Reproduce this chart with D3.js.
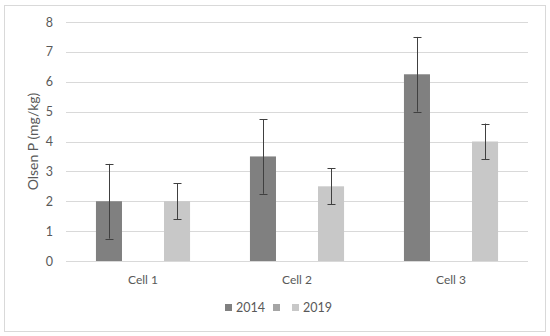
<!DOCTYPE html>
<html>
<head>
<meta charset="utf-8">
<script src="https://cdn.jsdelivr.net/npm/d3@7"></script>
<style>
  body { margin: 0; background: #fff; }
  svg text { font-family: Lato, "Open Sans", sans-serif; fill: #595959; }
</style>
</head>
<body>
<div id="chart"></div>
<script>
const categories = ["Cell 1", "Cell 2", "Cell 3"],
  seriesNames = ["2014", "", "2019"],
  values2014 = [2.0, 3.5, 6.25],
  valuesBlank = [0, 0, 0],
  values2019 = [2.0, 2.5, 4.0],
  err2014 = [1.25, 1.25, 1.25],
  errBlank = [0, 0, 0],
  err2019 = [0.6, 0.6, 0.6],
  yTicks = [0, 1, 2, 3, 4, 5, 6, 7, 8];

const COLORS = ["#808080", "#a5a5a5", "#c8c8c8"],
  WIDTH = 550,
  HEIGHT = 336,
  margin = { top: 22, right: 22, bottom: 75, left: 66 };

const series = [
  { name: seriesNames[0], vals: values2014, errs: err2014 },
  { name: seriesNames[1], vals: valuesBlank, errs: errBlank },
  { name: seriesNames[2], vals: values2019, errs: err2019 }
];

const svg = d3.select("#chart").append("svg")
  .attr("width", WIDTH)
  .attr("height", HEIGHT);

// outer chart frame
svg.append("rect")
  .attr("x", 4.5).attr("y", 5.5)
  .attr("width", 541).attr("height", 326)
  .attr("fill", "#fff")
  .attr("stroke", "#d9d9d9")
  .attr("stroke-width", 1);

const x0 = d3.scaleBand()
  .domain(categories)
  .range([margin.left, WIDTH - margin.right]);

const x1 = d3.scaleBand()
  .domain(d3.range(series.length))
  .range([0, x0.bandwidth()])
  .paddingInner(0.235)
  .paddingOuter(0.88);

const y = d3.scaleLinear()
  .domain([0, 8])
  .range([HEIGHT - margin.bottom, margin.top]);

// gridlines
svg.append("g")
  .selectAll("line")
  .data(yTicks)
  .enter()
  .append("line")
  .attr("x1", margin.left)
  .attr("x2", WIDTH - margin.right)
  .attr("y1", d => Math.round(y(d)) + 0.5)
  .attr("y2", d => Math.round(y(d)) + 0.5)
  .attr("stroke", "#d9d9d9")
  .attr("stroke-width", 1);

// y axis labels
const yAxis = svg.append("g")
  .attr("transform", `translate(${margin.left - 13},0)`)
  .call(d3.axisLeft(y).tickValues(yTicks).tickSize(0).tickPadding(0));
yAxis.select(".domain").remove();
yAxis.selectAll("text")
  .attr("font-size", 12.5)
  .style("font-family", "Lato, sans-serif")
  .attr("fill", "#595959");

// bars
const groups = svg.append("g")
  .selectAll("g")
  .data(series)
  .enter()
  .append("g")
  .attr("fill", (d, i) => COLORS[i]);

groups.each(function (s, si) {
  const g = d3.select(this);
  g.selectAll("rect")
    .data(categories)
    .enter()
    .append("rect")
    .attr("x", (c) => x0(c) + x1(si))
    .attr("y", (c, ci) => y(s.vals[ci]))
    .attr("width", x1.bandwidth())
    .attr("height", (c, ci) => y(0) - y(s.vals[ci]));

  // error bars
  const eb = g.selectAll(".err")
    .data(categories.filter((c, ci) => s.errs[ci] > 0))
    .enter()
    .append("g")
    .attr("class", "err")
    .attr("stroke", "#404040")
    .attr("stroke-width", 1);
  const ci = c => categories.indexOf(c);
  const cx = c => Math.round(x0(c) + x1(si) + x1.bandwidth() / 2) + 0.5;
  eb.append("line")
    .attr("x1", cx).attr("x2", cx)
    .attr("y1", c => y(s.vals[ci(c)] + s.errs[ci(c)]))
    .attr("y2", c => y(s.vals[ci(c)] - s.errs[ci(c)]));
  [1, -1].forEach(sign => {
    eb.append("line")
      .attr("x1", c => cx(c) - 4).attr("x2", c => cx(c) + 4)
      .attr("y1", c => Math.round(y(s.vals[ci(c)] + sign * s.errs[ci(c)])) + 0.5)
      .attr("y2", c => Math.round(y(s.vals[ci(c)] + sign * s.errs[ci(c)])) + 0.5);
  });
});

// category labels
svg.append("g")
  .selectAll("text")
  .data(categories)
  .enter()
  .append("text")
  .attr("x", d => x0(d) + x0.bandwidth() / 2)
  .attr("y", HEIGHT - margin.bottom + 23)
  .attr("text-anchor", "middle")
  .attr("font-size", 12)
  .text(d => d);

// y axis title
svg.append("text")
  .attr("transform", `translate(38,${(y(0) + y(8)) / 2}) rotate(-90)`)
  .attr("text-anchor", "middle")
  .attr("font-size", 14)
  .text("Olsen P (mg/kg)");

// legend
const legendX = [225, 273, 292];
const legend = svg.append("g")
  .selectAll("g")
  .data(series)
  .enter()
  .append("g")
  .attr("transform", (d, i) => `translate(${legendX[i]},304)`);
legend.append("rect")
  .attr("width", 7).attr("height", 7)
  .attr("fill", (d, i) => COLORS[i]);
legend.append("text")
  .attr("x", 11)
  .attr("y", 8)
  .attr("font-size", 12.5)
  .text(d => d.name);
</script>
</body>
</html>
